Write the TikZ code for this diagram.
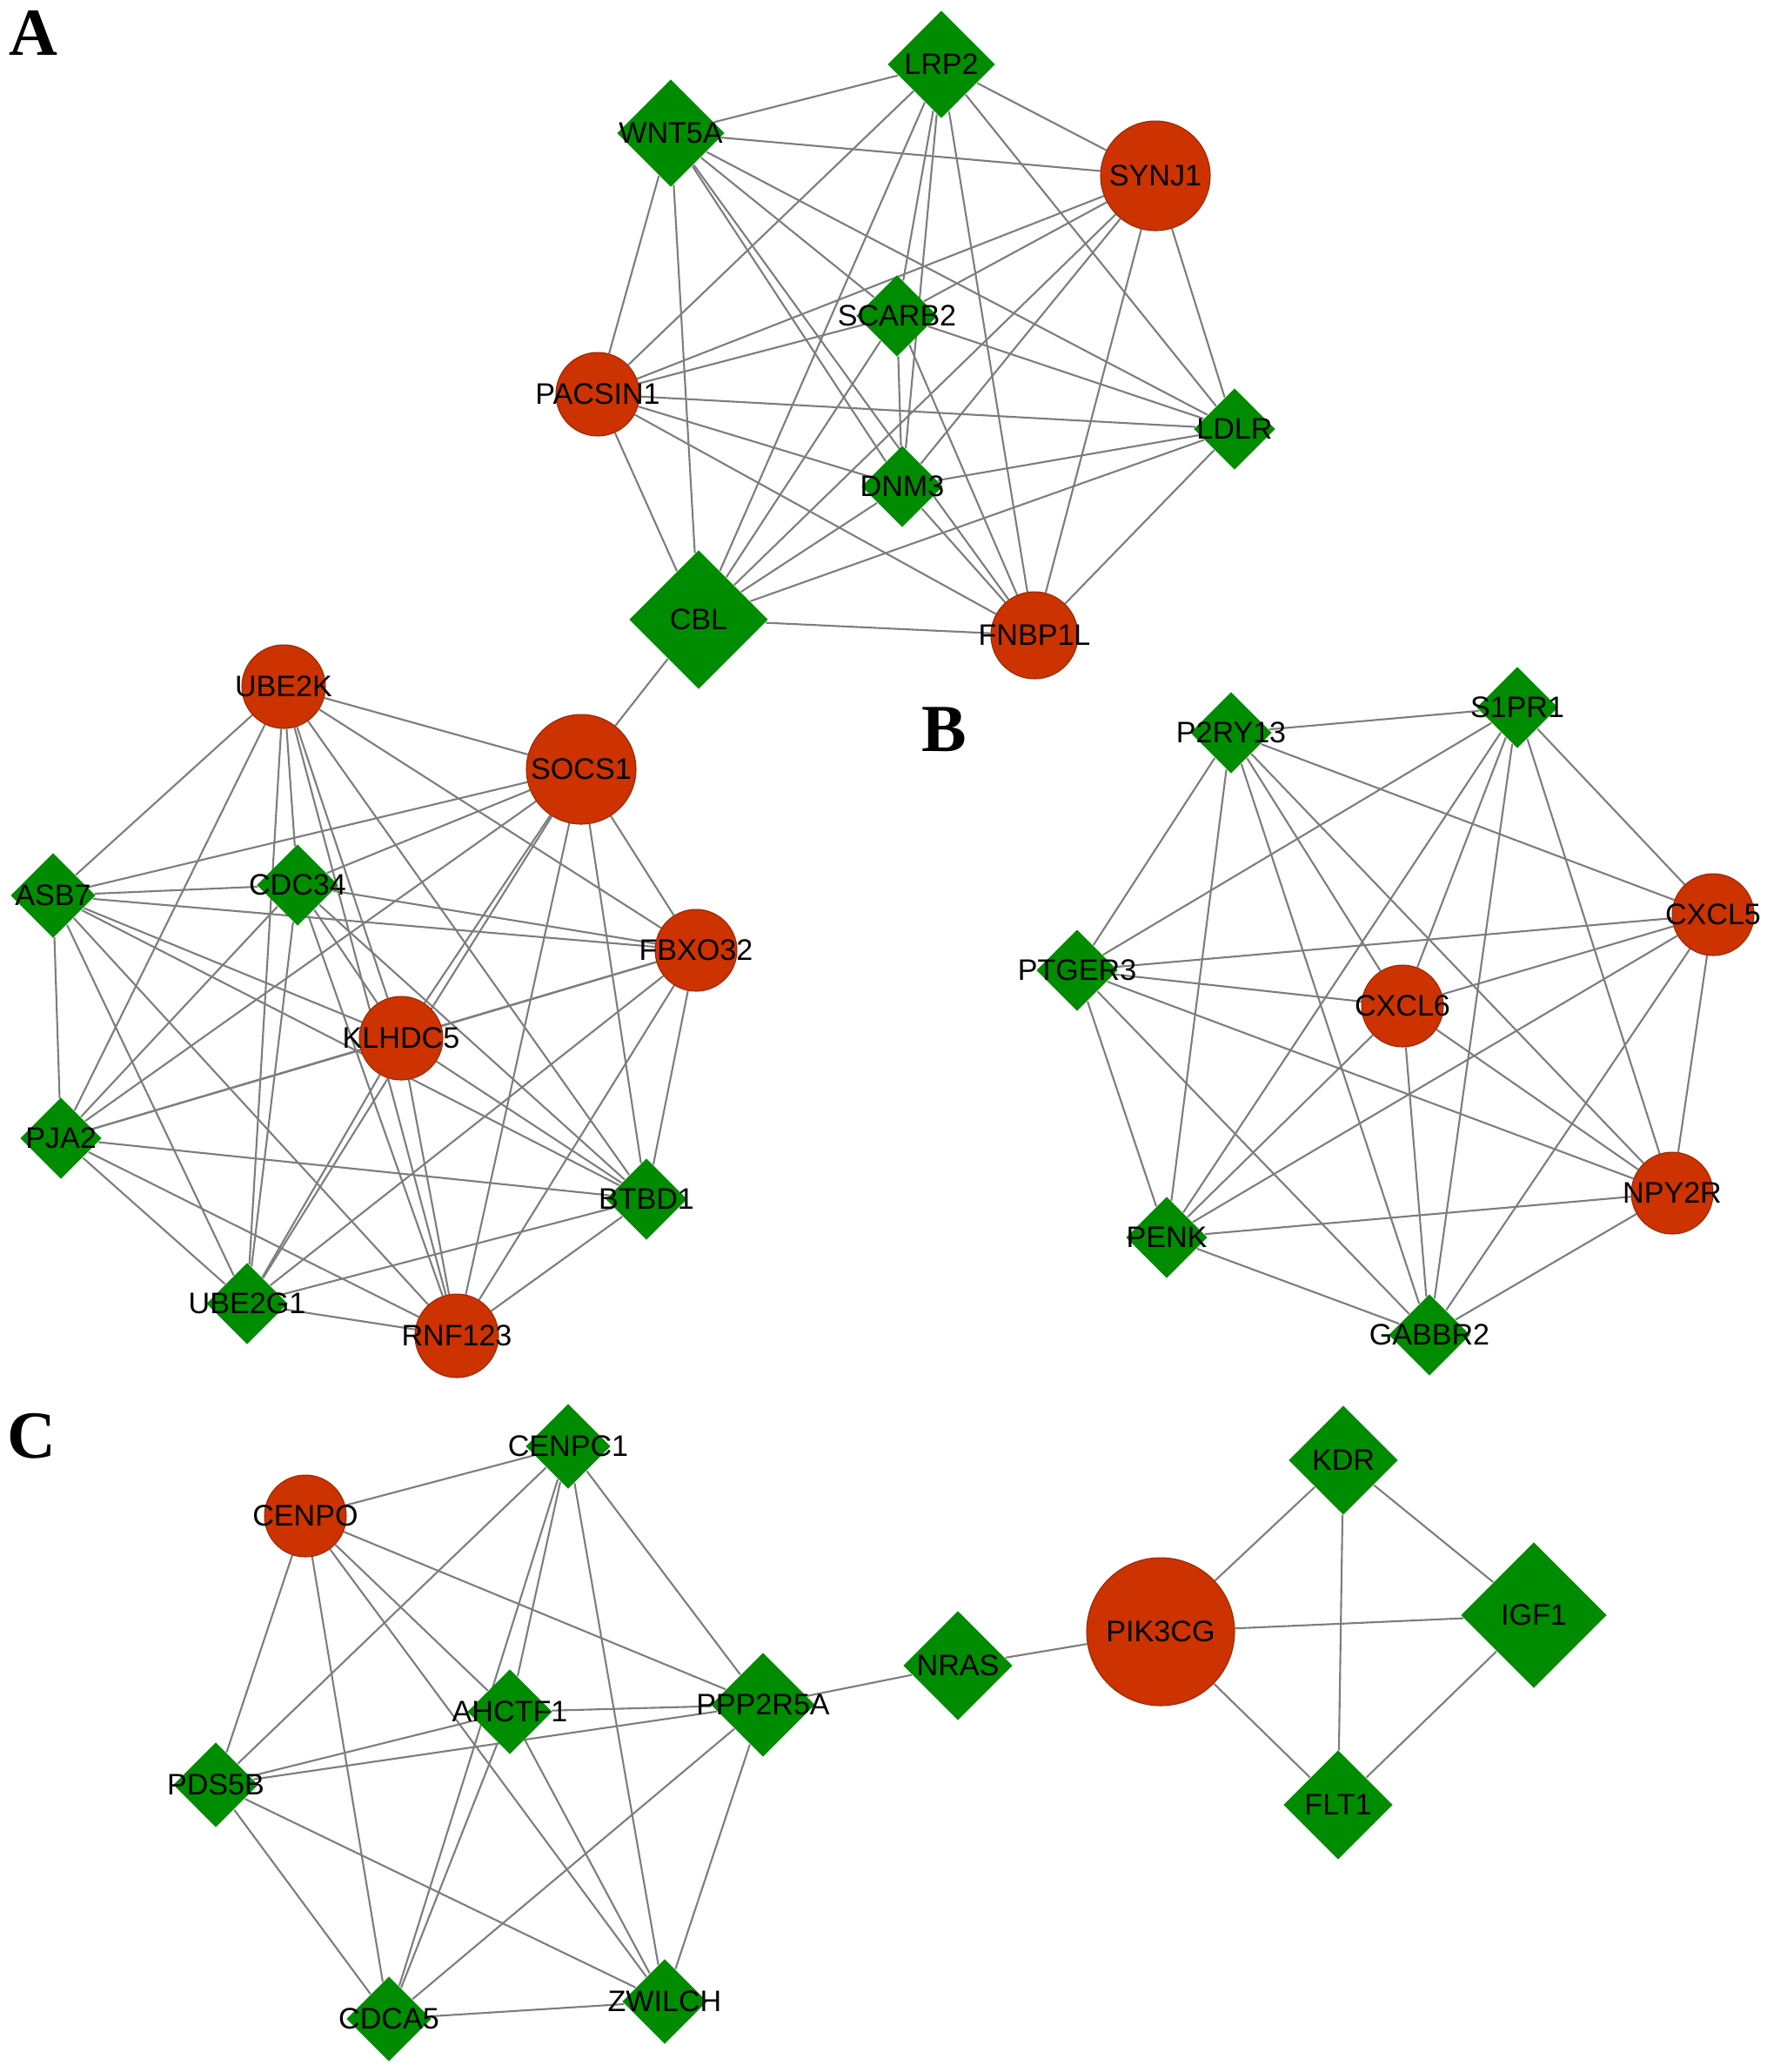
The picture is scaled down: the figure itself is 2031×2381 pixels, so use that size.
\documentclass[tikz,border=0pt]{standalone}
\usepackage{fontspec}
\setmainfont{Liberation Sans}
\newfontfamily\panelfont{Liberation Serif}
\usetikzlibrary{shapes.geometric,backgrounds}
\definecolor{upred}{RGB}{204,51,0}
\definecolor{downgreen}{RGB}{0,140,0}
\definecolor{edgegray}{RGB}{125,125,125}
\tikzset{
  upgene/.style={circle, fill=upred, draw=upred!75!black, line width=0.3pt, inner sep=0pt, minimum size=#1*0.2mm},
  downgene/.style={diamond, fill=downgreen, inner sep=0pt, minimum size=#1*0.2mm},
  every label/.style={font=\fontsize{9.7}{11}\selectfont, inner sep=0pt, text=black},
  link/.style={draw=edgegray, line width=0.6pt},
  panel/.style={font=\panelfont\bfseries\fontsize{22}{24}\selectfont, inner sep=0pt}
}
% every pair of the listed nodes gets a link
\newcommand{\fullmesh}[1]{%
  \foreach \a [count=\i] in {#1}
    \foreach \b [count=\j] in {#1}
      {\ifnum\j>\i \draw[link] (\a) -- (\b);\fi}}
\begin{document}
\begin{tikzpicture}[x=0.1mm,y=-0.1mm]
    \useasboundingbox (0,0) rectangle (2031,2381);
    \node[panel] (pa) at (38,38) {A};
    \node[panel] (pb) at (1085,838) {B};
    \node[panel] (pc) at (36,1650) {C};
    % A, upper cluster
    \node[downgene=62,label=center:LRP2] (lrp2) at (1082,74) {};
    \node[downgene=62,label=center:WNT5A] (wnt5a) at (771,153) {};
    \node[upgene=63,label=center:SYNJ1] (synj1) at (1328,202) {};
    \node[downgene=47,label=center:SCARB2] (scarb2) at (1031,363) {};
    \node[upgene=48,label=center:PACSIN1] (pacsin1) at (687,453) {};
    \node[downgene=47,label=center:LDLR] (ldlr) at (1419,493) {};
    \node[downgene=47,label=center:DNM3] (dnm3) at (1037,559) {};
    \node[downgene=80,label=center:CBL] (cbl) at (803,712) {};
    \node[upgene=50,label=center:FNBP1L] (fnbp1l) at (1189,730) {};
    % A, lower cluster
    \node[upgene=48,label=center:UBE2K] (ube2k) at (326,789) {};
    \node[upgene=63,label=center:SOCS1] (socs1) at (668,884) {};
    \node[downgene=49,label=center:ASB7] (asb7) at (61,1029) {};
    \node[downgene=47,label=center:CDC34] (cdc34) at (342,1017) {};
    \node[upgene=47,label=center:FBXO32] (fbxo32) at (800,1092) {};
    \node[upgene=48,label=center:KLHDC5] (klhdc5) at (461,1193) {};
    \node[downgene=47,label=center:PJA2] (pja2) at (70,1308) {};
    \node[downgene=47,label=center:BTBD1] (btbd1) at (743,1378) {};
    \node[downgene=47,label=center:UBE2G1] (ube2g1) at (284,1498) {};
    \node[upgene=48,label=center:RNF123] (rnf123) at (525,1535) {};
    % B
    \node[downgene=47,label=center:P2RY13] (p2ry13) at (1415,842) {};
    \node[downgene=47,label=center:S1PR1] (s1pr1) at (1744,813) {};
    \node[upgene=47,label=center:CXCL5] (cxcl5) at (1969,1051) {};
    \node[downgene=47,label=center:PTGER3] (ptger3) at (1238,1115) {};
    \node[upgene=47,label=center:CXCL6] (cxcl6) at (1612,1156) {};
    \node[upgene=47,label=center:NPY2R] (npy2r) at (1922,1371) {};
    \node[downgene=47,label=center:PENK] (penk) at (1341,1422) {};
    \node[downgene=47,label=center:GABBR2] (gabbr2) at (1643,1534) {};
    % C
    \node[downgene=49,label=center:CENPC1] (cenpc1) at (653,1662) {};
    \node[upgene=47,label=center:CENPO] (cenpo) at (351,1742) {};
    \node[downgene=49,label=center:AHCTF1] (ahctf1) at (586,1967) {};
    \node[downgene=60,label=center:PPP2R5A] (ppp2r5a) at (877,1959) {};
    \node[downgene=49,label=center:PDS5B] (pds5b) at (248,2051) {};
    \node[downgene=49,label=center:CDCA5] (cdca5) at (447,2320) {};
    \node[downgene=49,label=center:ZWILCH] (zwilch) at (764,2300) {};
    \node[downgene=63,label=center:NRAS] (nras) at (1101,1914) {};
    \node[upgene=85,label=center:PIK3CG] (pik3cg) at (1334,1875) {};
    \node[downgene=63,label=center:KDR] (kdr) at (1544,1678) {};
    \node[downgene=84,label=center:IGF1] (igf1) at (1763,1856) {};
    \node[downgene=63,label=center:FLT1] (flt1) at (1538,2074) {};
    \begin{pgfonlayer}{background}
    \fullmesh{lrp2,wnt5a,synj1,scarb2,pacsin1,ldlr,dnm3,cbl,fnbp1l}
    \fullmesh{ube2k,socs1,asb7,cdc34,fbxo32,klhdc5,pja2,btbd1,ube2g1,rnf123}
    \fullmesh{p2ry13,s1pr1,cxcl5,ptger3,cxcl6,npy2r,penk,gabbr2}
    \fullmesh{cenpc1,cenpo,ahctf1,ppp2r5a,pds5b,cdca5,zwilch}
    \fullmesh{pik3cg,kdr,igf1,flt1}
    \draw[link] (cbl) -- (socs1);
    \draw[link] (ppp2r5a) -- (nras);
    \draw[link] (nras) -- (pik3cg);
    \end{pgfonlayer}
\end{tikzpicture}
\end{document}
